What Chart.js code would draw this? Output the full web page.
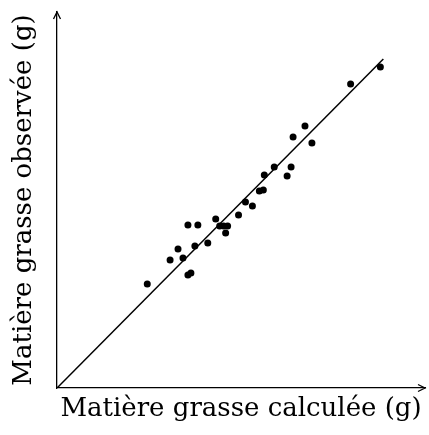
<!DOCTYPE html>
<html>
<head>
<meta charset="utf-8">
<script src="https://cdn.jsdelivr.net/npm/chart.js@4"></script>
<style>
  body { margin: 0; background: #fff; }
  canvas { display: block; }
</style>
</head>
<body>
<canvas id="fatChart" width="429" height="435"></canvas>
<script>
// matière grasse calculée (x) et observée (y), en g
const calcValues = [9.1, 11.4, 12.2, 12.7, 13.2, 13.2, 13.5, 13.9, 14.2, 15.2, 16.0, 16.4, 16.8, 17.2, 17.0,
  18.3, 19.0, 19.7, 20.4, 20.8, 20.9, 21.9, 23.2, 23.6, 23.8, 25.0, 25.7, 29.6, 32.6];
const obsValues = [10.4, 12.8, 13.9, 13.0, 16.3, 11.3, 11.5, 14.2, 16.3, 14.5, 16.9, 16.2, 16.2, 16.2, 15.5,
  17.3, 18.6, 18.2, 19.7, 19.8, 21.3, 22.1, 21.2, 22.1, 25.1, 26.2, 24.5, 30.4, 32.1];
// droite y = x
const lineX = [0, 32.9];
const axisMax = { x: 37.1, y: 37.6 };

const titleFont = { family: 'DejaVu Serif', size: 26 };

// flèches au bout des axes
const arrowPlugin = {
  id: 'axisArrows',
  afterDraw(chart) {
    const { ctx, chartArea: a } = chart;
    ctx.save();
    ctx.strokeStyle = '#000';
    ctx.lineWidth = 1.3;
    ctx.beginPath();
    ctx.moveTo(a.right - 7, a.bottom - 3.5);
    ctx.lineTo(a.right, a.bottom);
    ctx.lineTo(a.right - 7, a.bottom + 3.5);
    ctx.moveTo(a.left - 3.5, a.top + 7);
    ctx.lineTo(a.left, a.top);
    ctx.lineTo(a.left + 3.5, a.top + 7);
    ctx.stroke();
    ctx.restore();
  }
};

document.addEventListener('DOMContentLoaded', function () {
  const ctx = document.getElementById('fatChart').getContext('2d');
  new Chart(ctx, {
    type: 'scatter',
    data: {
      datasets: [{
        data: calcValues.map((x, i) => ({ x: x, y: obsValues[i] })),
        backgroundColor: '#000',
        borderColor: '#000',
        pointRadius: 3.5,
        pointBorderWidth: 0
      }, {
        type: 'line',
        data: lineX.map(v => ({ x: v, y: v })),
        borderColor: '#000',
        borderWidth: 1.5,
        pointRadius: 0,
        fill: false
      }]
    },
    options: {
      responsive: false,
      animation: false,
      devicePixelRatio: 1,
      layout: { padding: { top: 12, right: -2, left: 0, bottom: 0 } },
      plugins: { legend: { display: false }, tooltip: { enabled: false } },
      scales: {
        x: {
          type: 'linear',
          min: 0,
          max: axisMax.x,
          grid: { display: false },
          ticks: { display: false },
          border: { color: '#000', width: 1.3 },
          title: { display: true, text: 'Matière grasse calculée (g)', color: '#000', font: titleFont, padding: { top: 0, bottom: 10 } },
          afterFit: s => { s.height = 47; }
        },
        y: {
          type: 'linear',
          min: 0,
          max: axisMax.y,
          grid: { display: false },
          ticks: { display: false },
          border: { color: '#000', width: 1.3 },
          title: { display: true, text: 'Matière grasse observée (g)', color: '#000', font: titleFont, padding: { top: 9, bottom: 0 } },
          afterFit: s => { s.width = 57; }
        }
      }
    },
    plugins: [arrowPlugin]
  });
});
</script>
</body>
</html>
